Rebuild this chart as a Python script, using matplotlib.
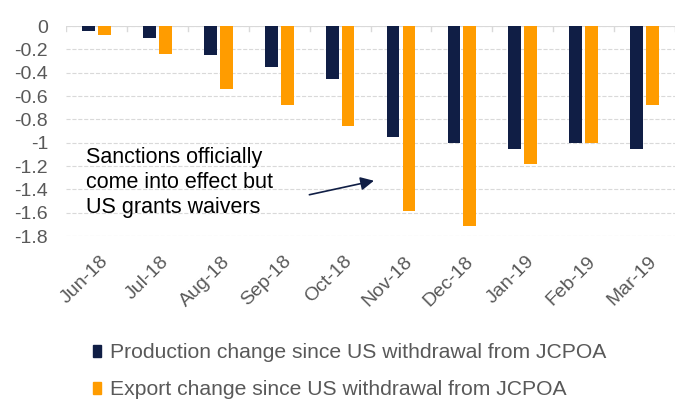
import numpy as np
import matplotlib.pyplot as plt
from matplotlib.patches import Patch

months = ['Jun-18', 'Jul-18', 'Aug-18', 'Sep-18', 'Oct-18',
          'Nov-18', 'Dec-18', 'Jan-19', 'Feb-19', 'Mar-19']
production = [-0.04, -0.1, -0.25, -0.35, -0.45, -0.95, -1.0, -1.05, -1.0, -1.05]
exports = [-0.08, -0.24, -0.54, -0.68, -0.86, -1.58, -1.71, -1.18, -1.0, -0.68]
yticks = [0, -0.2, -0.4, -0.6, -0.8, -1, -1.2, -1.4, -1.6, -1.8]

navy = '#101e45'
orange = '#ff9c00'
grey = '#595959'

plt.rcParams['font.family'] = ['Liberation Sans', 'DejaVu Sans']

fig = plt.figure(figsize=(6.75, 4.01), dpi=100)
ax = fig.add_axes([0.098, 0.411, 0.902, 0.524])

x = np.arange(len(months))
ax.bar(x - 0.13, production, width=0.21, color=navy, zorder=3)
ax.bar(x + 0.13, exports, width=0.21, color=orange, zorder=3)

ax.set_xlim(-0.5, len(months) - 0.5)
ax.set_ylim(-1.8, 0)
ax.set_yticks(yticks)
ax.set_yticklabels([('%g' % v) for v in yticks])
ax.tick_params(axis='y', length=0, labelsize=14, labelcolor=grey, pad=13)
ax.set_xticks(x + 0.05)
ax.set_xticklabels(months, rotation=45, ha='right', rotation_mode='anchor')
ax.tick_params(axis='x', length=0, labelsize=14, labelcolor=grey, pad=12)

# small separators between categories along the zero line
for i in range(len(months) + 1):
    ax.plot([i - 0.5, i - 0.5], [0, -0.04], color='#d9d9d9', lw=1, zorder=2)

ax.grid(axis='y', color='#d9d9d9', linestyle='--', lw=0.8, zorder=0)
ax.grid(axis='x', visible=False)
ax.axhline(0, color='#d9d9d9', lw=1.5, zorder=2)
for s in ax.spines.values():
    s.set_visible(False)

ax.text(-0.17, -1.035, 'Sanctions officially\ncome into effect but\nUS grants waivers',
        fontsize=15.5, va='top', ha='left', color='black', linespacing=1.25)
ax.annotate('', xy=(4.6, -1.32), xytext=(3.45, -1.45),
            arrowprops=dict(arrowstyle='-|>', color=navy, lw=1.2, mutation_scale=20))

handles = [Patch(color=navy), Patch(color=orange)]
labels = ['Production change since US withdrawal from JCPOA',
          'Export change since US withdrawal from JCPOA']
leg = fig.legend(handles, labels, loc='upper left', bbox_to_anchor=(0.126, 0.165),
                 frameon=False, fontsize=15.2, handlelength=0.35, handleheight=0.5,
                 handletextpad=0.45, labelspacing=0.85, borderaxespad=0)
for t in leg.get_texts():
    t.set_color(grey)

fig.savefig('out.png', dpi=100)
